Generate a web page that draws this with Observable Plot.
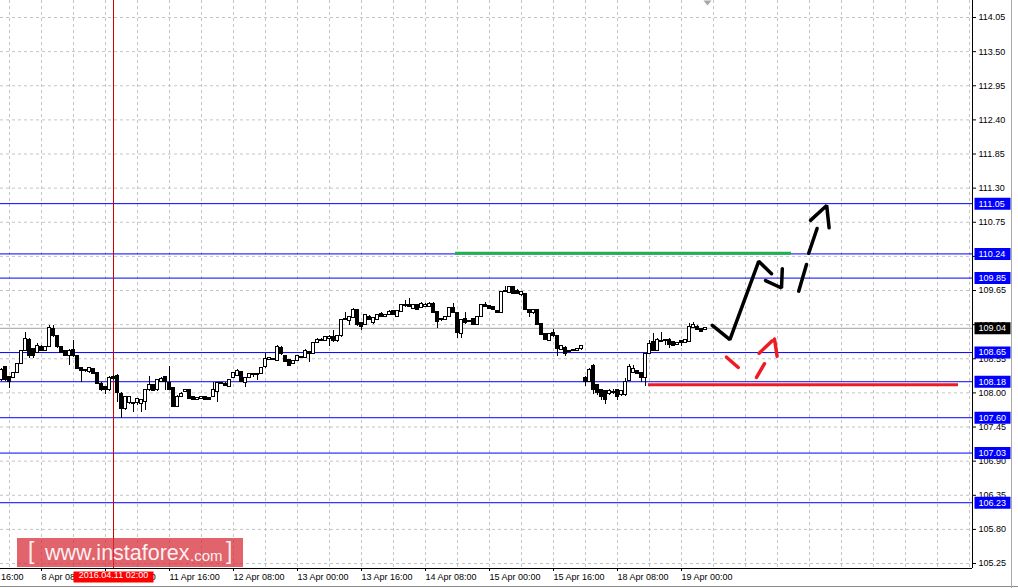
<!DOCTYPE html>
<html><head><meta charset="utf-8">
<script src="https://cdn.jsdelivr.net/npm/d3@7"></script>
<script src="https://cdn.jsdelivr.net/npm/@observablehq/plot@0.6"></script>
<style>
html,body{margin:0;padding:0;background:#fff;overflow:hidden;}
#wrap{position:relative;width:1018px;height:588px;overflow:hidden;}
#chart svg{display:block;}
.wm{position:absolute;left:17px;top:538px;width:226px;height:29px;background:rgba(214,45,55,0.74);font-family:"Liberation Sans",Arial,sans-serif;white-space:nowrap;color:rgba(255,255,255,0.93);}
.wm span{position:absolute;line-height:1;}
.bline{position:absolute;left:0;top:586px;width:1018px;height:1px;background:#8a8a8a;}
.vline{position:absolute;left:1011px;top:0;width:1px;height:588px;background:#a8a8a8;}
</style></head>
<body><div id="wrap"><div id="chart"></div>
<div class="wm"><span style="left:11px;top:2px;font-size:23px;">[</span><span style="left:28px;top:5px;font-size:21.5px;">www.instaforex</span><span style="left:173px;top:10px;font-size:15px;">.com</span><span style="left:209px;top:2px;font-size:23px;">]</span></div>
<div class="bline"></div><div class="vline"></div>
</div>
<script>
// ---- H1 candles (bar index 0 = 7 Apr 22:00) ----
const open = [
108.20,108.41,108.25,108.24,108.32,108.47,108.67,108.86,108.71,108.64,
108.74,108.68,108.74,109.03,108.91,108.74,108.67,108.60,108.69,108.60,
108.40,108.35,108.33,108.39,108.32,108.15,108.10,108.05,108.26,108.28,
107.99,107.74,107.83,107.83,107.83,107.82,107.85,108.04,108.12,108.04,
108.17,108.25,108.16,108.08,107.78,107.93,108.01,108.05,107.93,107.89,
107.90,107.93,107.91,107.93,108.01,108.15,108.15,108.10,108.24,108.28,
108.33,108.16,108.24,108.29,108.30,108.30,108.41,108.53,108.54,108.52,
108.73,108.60,108.53,108.47,108.52,108.57,108.57,108.66,108.63,108.80,
108.84,108.84,108.87,108.90,108.83,108.91,109.17,109.16,109.21,109.33,
109.12,109.09,109.23,109.13,109.18,109.27,109.22,109.25,109.32,109.23,
109.30,109.40,109.41,109.36,109.41,109.37,109.38,109.39,109.44,109.30,
109.17,109.17,109.22,109.37,109.29,108.95,109.19,109.15,109.19,109.09,
109.23,109.41,109.40,109.39,109.32,109.29,109.63,109.61,109.70,109.64,
109.57,109.60,109.34,109.28,109.34,109.11,108.95,108.84,108.96,108.92,
108.69,108.73,108.66,108.67,108.68,108.70,108.24,108.17,108.44,108.12,
108.05,108.03,107.98,108.02,108.04,107.96,107.96,108.19,108.32,108.35,
108.32,108.24,108.63,108.82,108.68,108.82,108.84,108.86,108.82,108.78,
108.83,108.80,108.82,109.05,109.07,109.03,109.02];
const high = [
108.40,108.43,108.26,108.33,108.47,108.69,108.97,108.87,108.72,108.80,
108.76,108.75,109.09,109.09,108.92,108.75,108.69,108.70,108.84,108.61,
108.41,108.38,108.41,108.40,108.33,108.16,108.11,108.26,108.28,108.29,
108.00,107.95,107.95,107.84,107.91,107.90,108.05,108.26,108.14,108.22,
108.25,108.26,108.43,108.09,107.96,108.00,108.06,108.06,107.94,107.93,
107.95,107.94,107.92,108.17,108.17,108.17,108.16,108.22,108.33,108.37,
108.35,108.25,108.32,108.32,108.31,108.41,108.63,108.57,108.56,108.76,
108.74,108.61,108.54,108.53,108.60,108.59,108.70,108.67,108.81,108.87,
108.87,108.91,108.92,109.01,108.92,109.18,109.29,109.23,109.36,109.35,
109.13,109.26,109.24,109.22,109.26,109.29,109.27,109.32,109.33,109.33,
109.43,109.49,109.52,109.43,109.42,109.45,109.44,109.45,109.46,109.31,
109.20,109.23,109.38,109.44,109.30,109.19,109.29,109.17,109.20,109.23,
109.43,109.45,109.41,109.40,109.33,109.64,109.72,109.71,109.71,109.66,
109.63,109.61,109.35,109.35,109.35,109.12,108.96,108.96,109.02,108.93,
108.76,108.74,108.69,108.70,108.72,108.76,108.26,108.40,108.45,108.13,
108.06,108.04,108.05,108.06,108.05,108.04,108.24,108.46,108.44,108.36,
108.33,108.64,108.84,108.96,108.87,108.98,108.86,108.87,108.83,108.81,
108.84,108.86,109.12,109.13,109.08,109.04,109.05];
const low = [
108.18,108.19,108.07,108.23,108.31,108.46,108.66,108.56,108.56,108.63,
108.66,108.67,108.73,108.90,108.72,108.63,108.58,108.44,108.57,108.37,
108.17,108.33,108.32,108.30,108.13,108.02,107.97,108.03,108.20,107.85,
107.58,107.72,107.82,107.69,107.80,107.69,107.72,108.03,108.02,108.03,
108.16,108.04,108.04,107.76,107.76,107.92,108.00,107.89,107.87,107.87,
107.89,107.88,107.87,107.92,107.85,108.13,108.10,108.09,108.23,108.27,
108.16,108.08,108.23,108.25,108.20,108.29,108.40,108.52,108.52,108.51,
108.61,108.49,108.43,108.46,108.51,108.55,108.56,108.49,108.62,108.79,
108.83,108.83,108.75,108.82,108.82,108.90,109.16,109.09,109.20,109.07,
109.01,109.08,109.17,109.11,109.17,109.21,109.21,109.24,109.24,109.22,
109.29,109.38,109.38,109.35,109.33,109.36,109.37,109.38,109.28,109.03,
109.15,109.16,109.21,109.28,108.87,108.87,109.11,109.14,109.09,109.08,
109.22,109.37,109.34,109.32,109.28,109.28,109.62,109.60,109.59,109.58,
109.56,109.33,109.21,109.27,109.08,108.93,108.84,108.83,108.90,108.59,
108.68,108.59,108.65,108.66,108.67,108.69,108.10,108.16,107.97,107.96,
107.88,107.82,107.96,107.97,107.88,107.95,107.95,108.18,108.31,108.29,
108.17,108.10,108.62,108.67,108.67,108.81,108.76,108.71,108.75,108.77,
108.74,108.79,108.81,109.04,109.01,108.97,109.00];
const close = [
108.37,108.21,108.18,108.32,108.46,108.67,108.87,108.60,108.60,108.76,
108.67,108.74,109.04,108.91,108.74,108.64,108.60,108.68,108.59,108.39,
108.35,108.37,108.40,108.31,108.15,108.04,108.04,108.24,108.22,108.00,
107.74,107.93,107.93,107.82,107.90,107.89,108.04,108.12,108.03,108.20,
108.23,108.17,108.05,107.78,107.94,107.99,108.05,107.90,107.88,107.92,
107.94,107.89,107.88,108.04,108.16,108.16,108.11,108.21,108.32,108.35,
108.17,108.24,108.31,108.30,108.29,108.40,108.55,108.56,108.53,108.74,
108.62,108.50,108.44,108.52,108.59,108.58,108.67,108.62,108.80,108.85,
108.85,108.90,108.90,108.83,108.91,109.17,109.19,109.22,109.34,109.09,
109.07,109.25,109.18,109.20,109.25,109.22,109.25,109.31,109.25,109.32,
109.42,109.41,109.39,109.42,109.34,109.44,109.42,109.43,109.29,109.14,
109.19,109.22,109.37,109.29,108.96,109.18,109.12,109.16,109.10,109.22,
109.42,109.39,109.35,109.33,109.29,109.62,109.65,109.70,109.60,109.59,
109.62,109.34,109.28,109.34,109.09,108.94,108.85,108.95,108.91,108.71,
108.75,108.63,108.68,108.69,108.70,108.75,108.17,108.37,108.05,108.00,
107.93,107.89,108.03,108.00,107.93,108.03,108.17,108.41,108.39,108.30,
108.24,108.63,108.79,108.68,108.86,108.84,108.85,108.78,108.76,108.80,
108.80,108.85,109.07,109.10,109.02,108.98,109.04];

// ---- axes ----
const xTickBars = [-6,10,26,42,58,74,90,106,122,138,154,170];
const xTickLabels = ["7 Apr 16:00","8 Apr 08:00","11 Apr 00:00","11 Apr 16:00","12 Apr 08:00","13 Apr 00:00","13 Apr 16:00","14 Apr 08:00","15 Apr 00:00","15 Apr 16:00","18 Apr 08:00","19 Apr 00:00"];
const gridBars = [2,10,18,26,34,42,50,58,66,74,82,90,98,106,114,122,130,138,146,154,162,170,178,186,194,202,210,218,226,234,242];
const yTicks = [114.05,113.50,112.95,112.40,111.85,111.30,110.75,110.20,109.65,109.10,108.55,108.00,107.45,106.90,106.35,105.80,105.25];

// ---- levels & annotations ----
const levels = [111.05,110.24,109.85,108.65,108.18,107.60,107.03,106.23];
const bid = 109.04;
const crosshairBar = 28;
const crosshairLabel = "2016.04.11 02:00";
const shiftMarkerBar = 176.5;
const resistance = [{y:110.25, x1:113.5, x2:197.5}];
const support = [{y:108.13, x1:161.75, x2:239.25}];
const fcMain  = [[177.7,109.09],[182.1,108.86],[189.3,110.12],[192.5,109.92]];
const fcHead1 = [[191.0,109.81],[195.0,109.69],[195.2,110.00]];
const fcDash1 = [[199.3,109.64],[201.25,110.07]];
const fcDash2 = [[201.8,110.25],[203.9,110.65]];
const fcHead2 = [[202.25,110.78],[206.3,111.02],[206.9,110.66]];
const altDash1 = [[181.25,108.575],[184.2,108.41]];
const altDash2 = [[188.75,108.25],[190.75,108.47]];
const altDash3 = [[189.4,108.64],[192.7,108.84]];
const altDash4 = [[193.25,108.87],[193.9,108.59]];

const candles = open.map((o,i)=>({i, o, h:high[i], l:low[i], c:close[i], up: close[i] >= o}));
const blackData = [fcMain,fcHead1,fcDash1,fcDash2,fcHead2].flatMap((s,k)=>s.map(([i,p])=>({i,p,k})));
const redData = [altDash1,altDash2,altDash3,altDash4].flatMap((s,k)=>s.map(([i,p])=>({i,p,k})));

const box = (w,h) => ({draw(ctx){ctx.moveTo(-w/2,-h/2);ctx.lineTo(w/2,-h/2);ctx.lineTo(w/2,h/2);ctx.lineTo(-w/2,h/2);ctx.closePath();}});
const tri = {draw(ctx){ctx.moveTo(-4,-2);ctx.lineTo(4,-2);ctx.lineTo(0,3);ctx.closePath();}};
const F = '"Liberation Sans", Arial, sans-serif';
const grid = "#c4c4c4";

const chart = Plot.plot({
  width: 1018, height: 588,
  marginLeft: 0, marginRight: 46, marginTop: 0, marginBottom: 20,
  style: {fontFamily: F, fontSize: "9px", background: "white", color: "black"},
  x: {domain: [-0.25, 242.75], label: null},
  y: {domain: [105.170, 114.324], label: null},
  marks: [
    Plot.gridX(gridBars, {stroke: grid, strokeOpacity: 1, strokeDasharray: "3,3"}),
    Plot.gridY(yTicks, {stroke: grid, strokeOpacity: 1, strokeDasharray: "3,3"}),
    Plot.ruleY([bid], {stroke: "#b4b4b4", strokeWidth: 1.2}),
    Plot.ruleY(levels, {stroke: "#0000ff", strokeWidth: 1}),
    Plot.ruleY(resistance, {y: "y", x1: "x1", x2: "x2", stroke: "#22b14c", strokeWidth: 3}),
    Plot.ruleY(support, {y: "y", x1: "x1", x2: "x2", stroke: "#ed1c24", strokeWidth: 3}),
    Plot.ruleX([crosshairBar], {stroke: "#d40000", strokeWidth: 1}),
    Plot.ruleX(candles, {x: "i", y1: "l", y2: "h", stroke: "black", shapeRendering: "crispEdges"}),
    Plot.rect(candles, {x1: d=>d.i-0.3, x2: d=>d.i+0.3, y1: d=>Math.min(d.o,d.c), y2: d=>Math.max(d.o,d.c),
      fill: d=>d.up ? "white" : "black", stroke: "black", strokeWidth: 1, shapeRendering: "crispEdges"}),
    Plot.line(blackData, {x: "i", y: "p", z: "k", stroke: "black", strokeWidth: 3.5, strokeLinejoin: "miter"}),
    Plot.line(redData, {x: "i", y: "p", z: "k", stroke: "#ed1c24", strokeWidth: 3.5}),
    Plot.dot([shiftMarkerBar], {x: d=>d, frameAnchor: "top", dy: 2, symbol: tri, r: 4, fill: "#a8a8a8", stroke: "none"}),
    Plot.ruleX([242.75], {stroke: "black"}),
    Plot.ruleY([105.170], {stroke: "black"}),
    Plot.axisY({anchor: "right", ticks: yTicks, tickFormat: d=>d.toFixed(2), tickSize: 3, tickPadding: 3, label: null, fontSize: 9}),
    Plot.axisX({anchor: "bottom", ticks: xTickBars, tickFormat: d=>xTickLabels[xTickBars.indexOf(d)], tickSize: 3, tickPadding: 2, textAnchor: "start", label: null, fontSize: 9}),
    Plot.dot(levels, {y: d=>d, frameAnchor: "right", dx: 20, symbol: box(36,12), r: 5, fill: "#0000ff", stroke: "none"}),
    Plot.text(levels, {y: d=>d, frameAnchor: "right", dx: 6, textAnchor: "start", text: d=>d.toFixed(2), fill: "white", fontSize: 9}),
    Plot.dot([bid], {y: d=>d, frameAnchor: "right", dx: 20, symbol: box(36,12), r: 5, fill: "black", stroke: "none"}),
    Plot.text([bid], {y: d=>d, frameAnchor: "right", dx: 6, textAnchor: "start", text: d=>d.toFixed(2), fill: "white", fontSize: 9}),
    Plot.dot([crosshairBar], {x: d=>d, frameAnchor: "bottom", dy: 8.5, symbol: box(80,11), r: 5, fill: "#ff0000", stroke: "none"}),
    Plot.text([crosshairBar], {x: d=>d, frameAnchor: "bottom", dy: 9, text: ()=>crosshairLabel, fill: "white", fontSize: 9})
  ]
});
document.getElementById("chart").appendChild(chart);
</script>
</body></html>
